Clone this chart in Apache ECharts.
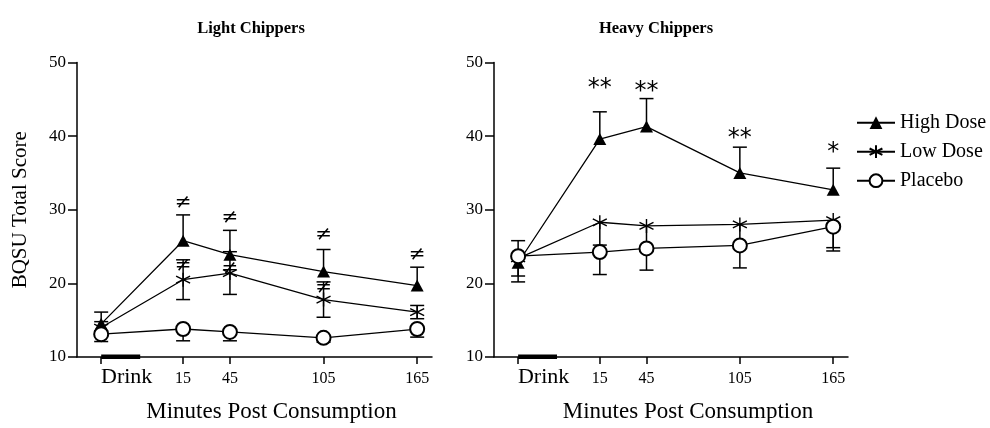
<!DOCTYPE html>
<html><head><meta charset="utf-8">
<script src="https://cdn.jsdelivr.net/npm/echarts@6/dist/echarts.min.js"></script>
<style>html,body{margin:0;padding:0;background:#fff}#c{width:990px;height:428px}</style>
</head><body><div id="c"></div>
<script>
// ---- data ----
const timeLabels = ['Drink', '15', '45', '105', '165'];
const timeMinutes = [-37.5, 15, 45, 105, 165];
const drinkPeriod = [-37.5, -12.5];
const seriesNames = ['High Dose', 'Low Dose', 'Placebo'];
const panelTitles = ['Light Chippers', 'Heavy Chippers'];

// Light chippers
const lightHigh = [14.5, 25.8, 23.9, 21.6, 19.7];
const lightHighUp = [1.6, 3.5, 3.3, 3.0, 2.5];
const lightHighDown = [0, 0, 0, 0, 0];
const lightLow = [14.0, 20.5, 21.4, 17.8, 16.1];
const lightLowUp = [0.8, 2.7, 2.9, 2.4, 0.9];
const lightLowDown = [0.8, 2.7, 2.9, 2.4, 0.9];
const lightPlacebo = [13.1, 13.8, 13.4, 12.6, 13.8];
const lightPlaceboUp = [0, 0, 0, 0, 0];
const lightPlaceboDown = [1.0, 1.6, 1.2, 0.6, 1.1];

// Heavy chippers
const heavyHigh = [22.8, 39.6, 41.3, 35.0, 32.7];
const heavyHighUp = [3.0, 3.7, 3.8, 3.5, 2.95];
const heavyHighDown = [0, 0, 0, 0, 0];
const heavyLow = [23.4, 28.3, 27.8, 28.0, 28.6];
const heavyLowUp = [0, 0, 0, 0, 0];
const heavyLowDown = [3.2, 3.1, 2.9, 3.0, 3.75];
const heavyPlacebo = [23.7, 24.25, 24.75, 25.15, 27.7];
const heavyPlaceboUp = [0, 0, 0, 0, 0];
const heavyPlaceboDown = [2.7, 3.05, 2.95, 3.05, 3.3];

// significance markers (text, and score level where each is drawn)
const lightHighSig = ['', '≠', '≠', '≠', '≠'];
const lightHighSigY = [null, 30.9, 28.9, 26.6, 23.9];
const lightLowSig = ['', '≠', '≠', '≠', ''];
const lightLowSigY = [null, 22.4, 22.0, 19.4, null];
const heavyHighSig = ['', '**', '**', '**', '*'];
const heavyHighSigY = [null, 47.2, 46.9, 40.4, 38.6];

const yTicks = [10, 20, 30, 40, 50];

// ---- styles ----
const SERIF = 'Liberation Serif';
const symbols = {
  'High Dose': { symbol: 'triangle', size: [13, 12], itemStyle: { color: '#000' } },
  'Low Dose': { symbol: 'path://M7,0 L7,14 M1,3.5 L13,10.5 M1,10.5 L13,3.5', size: 14,
                itemStyle: { color: '#000', borderColor: '#000', borderWidth: 1.4 } },
  'Placebo': { symbol: 'emptyCircle', size: 14, itemStyle: { color: '#000', borderColor: '#000', borderWidth: 1.5 } }
};

const panels = [
  { left: 77, width: 355, title: panelTitles[0], titleX: 246,
    groups: [
      [seriesNames[0], lightHigh, lightHighUp, lightHighDown],
      [seriesNames[1], lightLow, lightLowUp, lightLowDown],
      [seriesNames[2], lightPlacebo, lightPlaceboUp, lightPlaceboDown]
    ],
    sigs: [[lightHighSig, lightHighSigY], [lightLowSig, lightLowSigY]] },
  { left: 494, width: 354, title: panelTitles[1], titleX: 651,
    groups: [
      [seriesNames[0], heavyHigh, heavyHighUp, heavyHighDown],
      [seriesNames[1], heavyLow, heavyLowUp, heavyLowDown],
      [seriesNames[2], heavyPlacebo, heavyPlaceboUp, heavyPlaceboDown]
    ],
    sigs: [[heavyHighSig, heavyHighSigY]] }
];

function labelIndex(v) {
  let best = 0;
  timeMinutes.forEach((t, i) => { if (Math.abs(t - v) < Math.abs(timeMinutes[best] - v)) best = i; });
  return best;
}

const grids = [], xAxes = [], yAxes = [], series = [], titles = [];
panels.forEach((p, pi) => {
  grids.push({ left: p.left, width: p.width, top: 62.5, bottom: 70 });
  titles.push({ text: p.title, left: p.titleX, top: 15, textAlign: 'center',
    textStyle: { fontFamily: SERIF, fontWeight: 'bold', fontSize: 16.5, color: '#000' } });
  xAxes.push({
    gridIndex: pi, type: 'value', min: -53, max: 174.5,
    splitLine: { show: false },
    axisLine: { onZero: false, lineStyle: { color: '#000', width: 1.5 } },
    axisTick: { customValues: timeMinutes, length: 7, lineStyle: { color: '#000', width: 1.5 } },
    axisLabel: {
      customValues: timeMinutes, margin: 9,
      formatter: v => { const i = labelIndex(v); return i === 0 ? '{d|' + timeLabels[i] + '}' : '{n|' + timeLabels[i] + '}'; },
      rich: {
        d: { fontFamily: SERIF, fontSize: 22, lineHeight: 22, color: '#000', padding: [0, 0, 0, 51] },
        n: { fontFamily: SERIF, fontSize: 16, lineHeight: 26, color: '#000' }
      }
    },
    name: 'Minutes Post Consumption', nameLocation: 'middle', nameGap: 43,
    nameTextStyle: { fontFamily: SERIF, fontSize: 23, color: '#000', padding: [0, 0, 0, 34] }
  });
  yAxes.push({
    gridIndex: pi, type: 'value', min: yTicks[0], max: yTicks[yTicks.length - 1], interval: 10,
    splitLine: { show: false },
    axisLine: { show: true, onZero: false, lineStyle: { color: '#000', width: 1.5 } },
    axisTick: { show: true, length: 9, lineStyle: { color: '#000', width: 1.5 } },
    axisLabel: { fontFamily: SERIF, fontSize: 17, color: '#000', margin: 11 },
    name: pi === 0 ? 'BQSU Total Score' : '', nameLocation: 'middle', nameGap: 46,
    nameTextStyle: { fontFamily: SERIF, fontSize: 21, color: '#000' }
  });

  // error bars
  p.groups.forEach(([name, vals, up, down]) => {
    series.push({
      type: 'custom', name: 'err ' + name + pi, xAxisIndex: pi, yAxisIndex: pi, z: 2, silent: true,
      data: timeMinutes.map((t, i) => [t, vals[i], vals[i] - down[i], vals[i] + up[i]]),
      renderItem: (params, api) => {
        const x = api.value(0), v = api.value(1), lo = api.value(2), hi = api.value(3);
        const top = api.coord([x, hi]), bot = api.coord([x, lo]);
        const st = { stroke: '#000', lineWidth: 1.5 };
        const ch = [{ type: 'line', shape: { x1: top[0], y1: top[1], x2: bot[0], y2: bot[1] }, style: st }];
        if (hi > v) ch.push({ type: 'line', shape: { x1: top[0] - 7, y1: top[1], x2: top[0] + 7, y2: top[1] }, style: st });
        if (lo < v) ch.push({ type: 'line', shape: { x1: bot[0] - 7, y1: bot[1], x2: bot[0] + 7, y2: bot[1] }, style: st });
        return { type: 'group', children: ch };
      }
    });
  });
  // lines
  p.groups.forEach(([name, vals]) => {
    const s = symbols[name];
    series.push({
      type: 'line', name: name, xAxisIndex: pi, yAxisIndex: pi, z: 3,
      data: timeMinutes.map((t, i) => [t, vals[i]]),
      symbol: s.symbol, symbolSize: s.size, showSymbol: true, showAllSymbol: true,
      lineStyle: { color: '#000', width: 1.3 }, itemStyle: s.itemStyle,
      emphasis: { disabled: true }
    });
  });
  // significance markers
  p.sigs.forEach(([texts, ys], si) => {
    const idx = texts.map((t, i) => i).filter(i => texts[i] && ys[i] != null);
    series.push({
      type: 'custom', name: 'sig' + pi + '_' + si, xAxisIndex: pi, yAxisIndex: pi, z: 4, silent: true,
      data: idx.map(i => [timeMinutes[i], ys[i]]),
      renderItem: (params, api) => {
        const i = idx[params.dataIndex];
        const t = texts[i];
        const c = api.coord([api.value(0), api.value(1)]);
        const star = t.indexOf('*') >= 0;
        return { type: 'text', x: c[0], y: c[1] + (star ? 6 : 0),
          style: { text: t, fill: '#000', align: 'center', verticalAlign: 'middle',
            font: star ? '24px "DejaVu Sans"' : '20px "DejaVu Sans"' } };
      }
    });
  });
  // drink bar
  series.push({
    type: 'custom', name: 'drink' + pi, xAxisIndex: pi, yAxisIndex: pi, z: 5, silent: true, clip: false,
    data: [[drinkPeriod[0], yTicks[0], drinkPeriod[1]]],
    renderItem: (params, api) => {
      const a = api.coord([api.value(0), api.value(1)]);
      const b = api.coord([api.value(2), api.value(1)]);
      return { type: 'rect', shape: { x: a[0], y: a[1] - 2.5, width: b[0] - a[0], height: 4.5 }, style: { fill: '#000' } };
    }
  });
});

const chart = echarts.init(document.getElementById('c'), null, { renderer: 'canvas' });
chart.setOption({
  animation: false,
  backgroundColor: '#fff',
  title: titles,
  legend: {
    orient: 'vertical', left: 856, top: 112.7, padding: 0,
    itemWidth: 38, itemHeight: 16, itemGap: 9,
    data: seriesNames, selectedMode: false,
    textStyle: { fontFamily: SERIF, fontSize: 20, color: '#000', lineHeight: 20 }
  },
  grid: grids, xAxis: xAxes, yAxis: yAxes, series: series
});
</script></body></html>
